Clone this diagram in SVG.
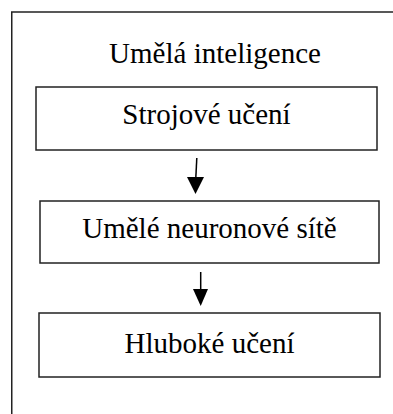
<svg xmlns="http://www.w3.org/2000/svg" width="393" height="414" viewBox="0 0 393 414">
  <style>
    .frame { fill: none; stroke: #222; stroke-width: 1.5; }
    .box { fill: #fff; stroke: #222; stroke-width: 1.5; }
    .label { font-family: "Liberation Serif", "Times New Roman", serif; font-size: 29px; fill: #000; text-anchor: middle; }
    .conn { stroke: #000; stroke-width: 1.5; fill: none; }
    .head { fill: #000; }
  </style>
  <rect width="393" height="414" fill="#fff"/>

  <!-- outer container, open at the right and bottom -->
  <g id="umela-inteligence">
    <path class="frame" d="M11.75 414 V12 H393"/>
    <text class="label" x="215" y="63">Umělá inteligence</text>
  </g>

  <g id="strojove-uceni">
    <rect class="box" x="36" y="87" width="341" height="63"/>
    <text class="label" x="206.5" y="124">Strojové učení</text>
  </g>

  <g id="umele-neuronove-site">
    <rect class="box" x="40" y="201" width="339" height="62"/>
    <text class="label" x="209.5" y="238">Umělé neuronové sítě</text>
  </g>

  <g id="hluboke-uceni">
    <rect class="box" x="39" y="313" width="341" height="64"/>
    <text class="label" x="209.5" y="353">Hluboké učení</text>
  </g>

  <g id="connectors">
    <line class="conn" x1="196.8" y1="158" x2="195.8" y2="178"/>
    <polygon class="head" points="187,177 204,177 195.5,194"/>
    <line class="conn" x1="200.7" y1="272" x2="200.7" y2="290"/>
    <polygon class="head" points="193,289 208,289 200.7,306"/>
  </g>
</svg>
